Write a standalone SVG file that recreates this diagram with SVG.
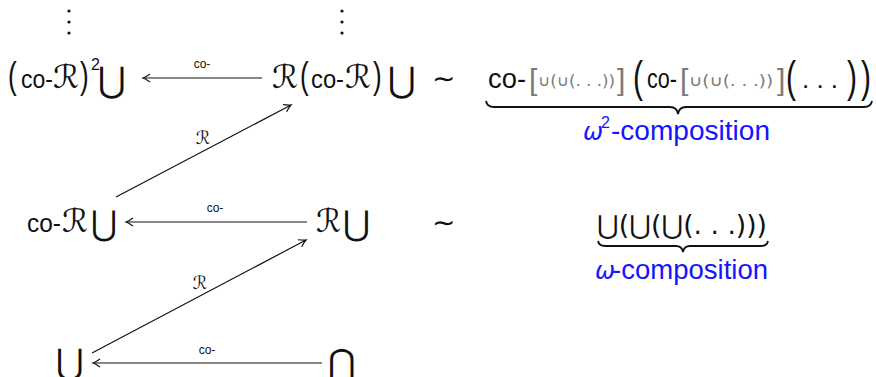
<svg xmlns="http://www.w3.org/2000/svg" width="876" height="377" viewBox="0 0 876 377">
  <style>
    .t { font-family: "Liberation Sans", "DejaVu Sans", sans-serif; fill: #111; }
    .s { font-family: "DejaVu Sans", "Noto Sans", sans-serif; fill: #111; }
    .lbl { font-family: "Liberation Sans", sans-serif; font-size: 12px; fill: #111; text-anchor: middle; }
    .gray { fill: #7a7a7a; }
    .blue { fill: #1414ff; }
    .edge { stroke: #111; stroke-width: 1.2; fill: none; marker-end: url(#arr); }
    .brace { stroke: #111; stroke-width: 1.8; fill: none; }
  </style>
  <defs>
    <marker id="arr" viewBox="-8 -5 10 10" refX="0" refY="0" markerWidth="10" markerHeight="10" markerUnits="userSpaceOnUse" orient="auto">
      <path d="M -7 -4 Q -2 -0.6 0 0 Q -2 0.6 -7 4" stroke="#111" stroke-width="1.2" fill="none"/>
    </marker>
  </defs>

  <!-- vertical ellipses above the top row -->
  <g id="vdots" fill="#111">
    <circle cx="69" cy="11" r="1.6"/><circle cx="69" cy="22" r="1.6"/><circle cx="69" cy="33" r="1.6"/>
    <circle cx="342" cy="11" r="1.6"/><circle cx="342" cy="22" r="1.6"/><circle cx="342" cy="33" r="1.6"/>
  </g>

  <!-- top row -->
  <g id="coR2U">
    <text class="t" font-size="26" transform="translate(8,88) scale(1,1.45)">(</text>
    <text class="t" x="21" y="88" font-size="25" textLength="32" lengthAdjust="spacingAndGlyphs">co-</text>
    <text class="s" x="53" y="88" font-size="32" textLength="26" lengthAdjust="spacingAndGlyphs">ℛ</text>
    <text class="t" font-size="26" transform="translate(80,88) scale(1,1.45)">)</text>
    <text class="t" x="91" y="70" font-size="16">2</text>
    <text class="s" x="98" y="92" font-size="35" textLength="28" lengthAdjust="spacingAndGlyphs">⋃</text>
  </g>
  <g id="RcoRU">
    <text class="s" x="272" y="88" font-size="32" textLength="26" lengthAdjust="spacingAndGlyphs">ℛ</text>
    <text class="t" font-size="26" transform="translate(300,88) scale(1,1.45)">(</text>
    <text class="t" x="311" y="88" font-size="25" textLength="33" lengthAdjust="spacingAndGlyphs">co-</text>
    <text class="s" x="345" y="88" font-size="32" textLength="26" lengthAdjust="spacingAndGlyphs">ℛ</text>
    <text class="t" font-size="26" transform="translate(373,88) scale(1,1.45)">)</text>
    <text class="s" x="388" y="92" font-size="35" textLength="28" lengthAdjust="spacingAndGlyphs">⋃</text>
  </g>
  <text class="s" x="432" y="88" font-size="28">∼</text>
  <g id="omega2">
    <text class="t" x="488" y="88" font-size="27" textLength="38" lengthAdjust="spacingAndGlyphs">co-</text>
    <text class="t gray" x="529" y="90" font-size="30">[</text>
    <text class="s gray" x="538" y="86" font-size="15" textLength="77" lengthAdjust="spacingAndGlyphs">∪(∪(. . .))</text>
    <text class="t gray" x="617" y="90" font-size="30">]</text>
    <text class="t" font-size="30" transform="translate(633,92) scale(1,1.5)">(</text>
    <text class="t" x="647" y="88" font-size="27" textLength="30" lengthAdjust="spacingAndGlyphs">co-</text>
    <text class="t gray" x="680" y="90" font-size="30">[</text>
    <text class="s gray" x="689" y="86" font-size="15" textLength="84" lengthAdjust="spacingAndGlyphs">∪(∪(. . .))</text>
    <text class="t gray" x="777" y="90" font-size="30">]</text>
    <text class="t" font-size="30" transform="translate(786,92) scale(1,1.5)">(</text>
    <text class="t" x="802" y="88" font-size="26" textLength="36" lengthAdjust="spacing">. . .</text>
    <text class="t" font-size="30" transform="translate(847,92) scale(1,1.5)">)</text>
    <text class="t" font-size="30" transform="translate(861,92) scale(1,1.5)">)</text>
    <path class="brace" d="M486 101 Q487 107 494 107 L670 107 Q677 107 678 114 Q679 107 686 107 L864 107 Q871 107 872 101"/>
    <text class="s blue" x="583" y="140" font-size="24" font-style="italic">ω</text>
    <text class="t blue" x="601" y="128" font-size="16">2</text>
    <text class="t blue" x="611" y="140" font-size="27" textLength="159" lengthAdjust="spacingAndGlyphs">-composition</text>
  </g>

  <!-- middle row -->
  <g id="coRU">
    <text class="t" x="27" y="232" font-size="25" textLength="34" lengthAdjust="spacingAndGlyphs">co-</text>
    <text class="s" x="62" y="232" font-size="32" textLength="26" lengthAdjust="spacingAndGlyphs">ℛ</text>
    <text class="s" x="91" y="235" font-size="34" textLength="26" lengthAdjust="spacingAndGlyphs">⋃</text>
  </g>
  <g id="RU">
    <text class="s" x="316" y="232" font-size="32" textLength="25" lengthAdjust="spacingAndGlyphs">ℛ</text>
    <text class="s" x="343" y="235" font-size="34" textLength="27" lengthAdjust="spacingAndGlyphs">⋃</text>
  </g>
  <text class="s" x="432" y="232" font-size="28">∼</text>
  <g id="omega1">
    <text class="s" x="597" y="234" font-size="26" textLength="170" lengthAdjust="spacingAndGlyphs">⋃(⋃(⋃(. . .)))</text>
    <path class="brace" d="M598 241 Q599 246 605 246 L676 246 Q682 246 683 252 Q684 246 690 246 L761 246 Q767 246 768 241"/>
    <text class="s blue" x="595" y="279" font-size="24" font-style="italic">ω</text>
    <text class="t blue" x="612" y="279" font-size="27" textLength="156" lengthAdjust="spacingAndGlyphs">-composition</text>
  </g>

  <!-- bottom row -->
  <g id="U">
    <text class="s" x="56" y="374" font-size="35" textLength="28" lengthAdjust="spacingAndGlyphs">⋃</text>
  </g>
  <g id="N">
    <text class="s" x="328" y="374" font-size="35" textLength="28" lengthAdjust="spacingAndGlyphs">⋂</text>
  </g>

  <!-- connectors -->
  <g id="edges">
    <line class="edge" x1="262" y1="78" x2="143" y2="78"/>
    <text class="lbl" x="202" y="68">co-</text>
    <line class="edge" x1="307" y1="222" x2="126" y2="222"/>
    <text class="lbl" x="215" y="212">co-</text>
    <line class="edge" x1="322" y1="363" x2="93" y2="363"/>
    <text class="lbl" x="207" y="354">co-</text>
    <line class="edge" x1="116" y1="197" x2="291" y2="105"/>
    <text class="s" x="203" y="144" font-size="18" text-anchor="middle">ℛ</text>
    <line class="edge" x1="92" y1="353" x2="306" y2="240"/>
    <text class="s" x="200" y="289" font-size="18" text-anchor="middle">ℛ</text>
  </g>
</svg>
